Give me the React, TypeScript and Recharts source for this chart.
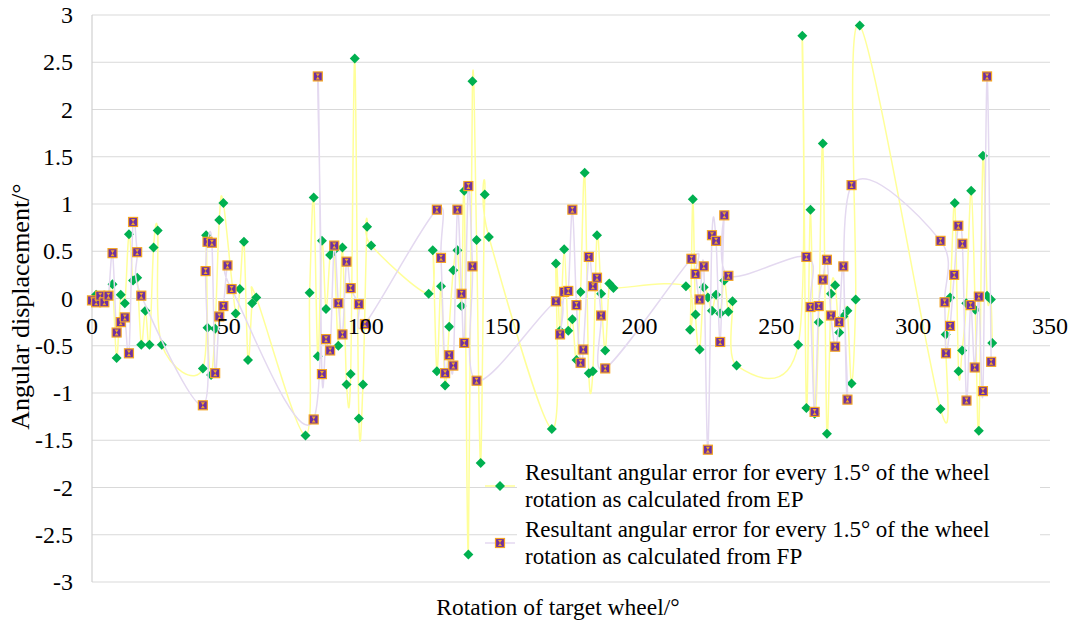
import React from "react";
import { ScatterChart, Scatter, XAxis, YAxis, CartesianGrid, Label } from "recharts";

// rotation of the target wheel (deg) and resultant angular error (deg), EP series
const epAngle = [
  0, 1.5, 3, 4.5, 6, 7.5, 9, 10.5, 12, 13.5, 15, 16.5, 18, 19.5, 21, 22.5, 24, 25.5,
  40.5, 41.7, 42.2, 43.5, 45, 46.5, 48, 52.5, 54, 55.5, 57, 58.5, 60,
  78, 79.5, 81, 82.5, 84, 85.5, 87, 88.5, 90, 91.5, 93, 94.5, 96, 97.5, 99, 100.5, 102,
  123, 124.5, 126, 127.5, 129, 130.5, 132, 133.5, 135, 136, 137.5, 139, 140.5, 142, 143.5, 145,
  168, 169.5, 171, 172.5, 174, 175.5, 177, 178.5, 180, 181.5, 183, 184.5, 186, 187.5, 189, 190.5,
  217, 218.5, 219.5, 220.5, 222, 223.5, 225, 226.5, 228, 229.5, 231, 232.5, 234, 235.5,
  258, 259.5, 261, 262.5, 264, 265.5, 267, 268.5, 270, 271.5, 273, 274.5, 276, 277.5, 279, 280.5,
  310, 311.9, 313.5, 315.2, 316.6, 317.9, 319.4, 321.2, 322.7, 324, 325.5, 327, 328.4, 328.9,
];
const epError = [
  -0.03, 0.04, 0.02, 0, 0.03, 0.15, -0.63, 0.04, -0.05, 0.68, 0.19, 0.22, -0.49, -0.13, -0.49, 0.54, 0.72, -0.49,
  -0.74, 0.67, -0.31, -0.81, -0.32, 0.83, 1.01, -0.16, 0.1, 0.6, -0.65, -0.05, 0.01,
  -1.45, 0.06, 1.07, -0.61, 0.61, -0.11, 0.46, 0.51, -0.5, 0.54, -0.91, -0.8, 2.54, -1.27, -0.91, 0.76, 0.56,
  0.05, 0.51, -0.77, 0.13, -0.92, -0.3, 0.3, 0.51, -0.08, 1.14, -2.71, 2.3, 0.62, -1.74, 1.1, 0.65,
  -1.38, 0.37, -0.34, 0.52, -0.34, -0.22, -0.65, 0.07, 1.33, -0.79, -0.77, 0.67, 0.05, -0.55, 0.16, 0.11,
  0.13, -0.33, 1.05, -0.17, -0.54, 0.12, 0.01, -0.13, 0.04, -0.16, 0.19, -0.14, -0.03, -0.71,
  -0.49, 2.78, -1.16, 0.94, -1.22, -0.25, 1.64, -1.43, 0.05, 0.14, -0.36, -0.19, -0.13, -0.9, -0.01, 2.89,
  -1.17, -0.38, 0.01, 1.01, -0.77, -0.55, -0.05, 1.14, -0.12, -1.4, 1.51, 0.03, -0.01, -0.47,
];

// FP series
const fpAngle = [
  0, 1.5, 3, 4.5, 6, 7.5, 9, 10.5, 12, 13.5, 15, 16.5, 18,
  40.5, 41.5, 42.2, 43.8, 45, 46.5, 48, 49.5, 51,
  81, 82.5, 84, 85.5, 87, 88.5, 90, 91.5, 93, 94.5, 97.5, 99.7,
  126, 127.5, 129, 130.5, 132, 133.5, 135, 136, 137.5, 139, 140.5,
  169.5, 171, 172.5, 174, 175.5, 177, 178.5, 179.5, 181.5, 183, 184.5, 186, 187.5,
  219, 220.5, 222, 223.5, 225, 226.5, 228, 229.5, 231, 232.5,
  261, 262.5, 264, 265.5, 267, 268.5, 270, 271.5, 273, 274.5, 276, 277.5,
  310, 311.5, 312, 313.5, 315, 316.5, 318, 319.5, 321, 322.5, 324, 325.5, 327, 328.5,
];
const fpError = [
  -0.02, -0.04, 0.03, -0.04, 0.03, 0.48, -0.36, -0.25, -0.2, -0.58, 0.81, 0.49, 0.03,
  -1.13, 0.29, 0.6, 0.59, -0.79, -0.19, -0.08, 0.35, 0.1,
  -1.28, 2.35, -0.8, -0.43, -0.55, 0.56, -0.05, -0.38, 0.39, 0.11, -0.06, -0.27,
  0.94, 0.43, -0.79, -0.6, -0.71, 0.94, 0.05, -0.47, 1.19, 0.34, -0.87,
  -0.03, -0.38, 0.07, 0.08, 0.94, -0.07, -0.68, -0.54, 0.44, 0.13, 0.22, -0.18, -0.74,
  0.42, 0.26, -0.01, 0.34, -1.6, 0.67, 0.61, -0.46, 0.88, 0.24,
  0.44, -0.09, -1.2, -0.08, 0.2, 0.41, -0.18, -0.51, -0.25, 0.34, -1.07, 1.2,
  0.61, -0.04, -0.58, -0.29, 0.25, 0.77, 0.58, -1.08, -0.07, -0.73, 0.02, -0.98, 2.35, -0.67,
];

const xTicks = [0, 50, 100, 150, 200, 250, 300, 350];
const yTicks = [-3, -2.5, -2, -1.5, -1, -0.5, 0, 0.5, 1, 1.5, 2, 2.5, 3];
const seriesNames = [
  "Resultant angular error for every 1.5° of the wheel rotation as calculated from EP",
  "Resultant angular error for every 1.5° of the wheel rotation as calculated from FP",
];

const epData = epAngle.map((x, i) => ({ x, y: epError[i] }));
const fpData = fpAngle.map((x, i) => ({ x, y: fpError[i] }));

const SERIF = "'Liberation Serif', 'Times New Roman', serif";
const PLOT_H = 567;
const textStyle = { fontFamily: SERIF };

// excel-like smoothed line (catmull-rom)
const smoothCurve = (context: any) => {
  let pts: number[][] = [];
  return {
    areaStart() {},
    areaEnd() {},
    lineStart() {
      pts = [];
    },
    point(x: number, y: number) {
      pts.push([+x, +y]);
    },
    lineEnd() {
      const n = pts.length;
      if (!n) return;
      context.moveTo(pts[0][0], pts[0][1]);
      for (let i = 0; i < n - 1; i++) {
        const p0 = pts[i - 1] || pts[i];
        const p1 = pts[i];
        const p2 = pts[i + 1];
        const p3 = pts[i + 2] || p2;
        context.bezierCurveTo(
          p1[0] + (p2[0] - p0[0]) / 6,
          p1[1] + (p2[1] - p0[1]) / 6,
          p2[0] - (p3[0] - p1[0]) / 6,
          p2[1] - (p3[1] - p1[1]) / 6,
          p2[0],
          p2[1]
        );
      }
    },
  };
};

const Diamond = ({ cx, cy }: any) => (
  <path d={`M${cx} ${cy - 5}L${cx + 5} ${cy}L${cx} ${cy + 5}L${cx - 5} ${cy}Z`} fill="#00B050" />
);

const Square = ({ cx, cy }: any) => (
  <g>
    <rect x={cx - 4.5} y={cy - 4.5} width={9} height={9} fill="#7030A0" stroke="#F5A623" strokeWidth={1.2} />
    <path
      d={`M${cx - 2} ${cy - 3}L${cx + 2} ${cy - 3}L${cx} ${cy}Z M${cx - 2} ${cy + 3}L${cx + 2} ${cy + 3}L${cx} ${cy}Z`}
      fill="#F5A623"
    />
  </g>
);

const XTick = ({ x, y, payload }: any) => (
  <text
    x={x}
    y={y - PLOT_H / 2 + 27}
    textAnchor="middle"
    dominantBaseline="central"
    fontSize={24}
    style={textStyle}
    fill="#000"
  >
    {payload.value}
  </text>
);

const YTick = ({ x, y, payload }: any) => (
  <text x={x} y={y} textAnchor="end" dominantBaseline="central" fontSize={24} style={textStyle} fill="#000">
    {payload.value}
  </text>
);

export default function App() {
  return (
    <div style={{ position: "absolute", left: 0, top: 0, width: 1071, height: 625, background: "#fff" }}>
      <ScatterChart width={1071} height={625} margin={{ top: 15, right: 21, bottom: 0, left: 0 }}>
        <CartesianGrid vertical={false} stroke="#D9D9D9" strokeWidth={1.2} />
        <XAxis
          type="number"
          dataKey="x"
          domain={[0, 350]}
          ticks={xTicks}
          interval={0}
          height={43}
          axisLine={false}
          tickLine={false}
          tickSize={0}
          tickMargin={0}
          tick={<XTick />}
        >
          <Label
            content={({ viewBox }: any) => (
              <text
                x={viewBox.x + viewBox.width / 2 - 13}
                y={viewBox.y + 25}
                textAnchor="middle"
                dominantBaseline="central"
                fontSize={23.5}
                style={textStyle}
                fill="#000"
              >
                Rotation of target wheel/°
              </text>
            )}
          />
        </XAxis>
        <YAxis
          type="number"
          dataKey="y"
          domain={[-3, 3]}
          ticks={yTicks}
          interval={0}
          width={92}
          axisLine={{ stroke: "#D0D0D0", strokeWidth: 1.2 }}
          tickLine={false}
          tickSize={0}
          tickMargin={19}
          tick={<YTick />}
        >
          <Label
            content={({ viewBox }: any) => {
              const cx = 20;
              const cy = viewBox.y + viewBox.height / 2 + 8;
              return (
                <text
                  x={cx}
                  y={cy}
                  transform={`rotate(-90 ${cx} ${cy})`}
                  textAnchor="middle"
                  dominantBaseline="central"
                  fontSize={26}
                  style={textStyle}
                  fill="#000"
                >
                  Angular displacement/°
                </text>
              );
            }}
          />
        </YAxis>
        <Scatter
          name={seriesNames[0]}
          data={epData}
          line={{ stroke: "#FFFF99", strokeWidth: 1.5 }}
          lineType="joint"
          lineJointType={smoothCurve as any}
          shape={Diamond}
          isAnimationActive={false}
        />
        <Scatter
          name={seriesNames[1]}
          data={fpData}
          line={{ stroke: "#E4D9F0", strokeWidth: 1.5 }}
          lineType="joint"
          lineJointType={smoothCurve as any}
          shape={Square}
          isAnimationActive={false}
        />
      </ScatterChart>
      <div style={{ position: "absolute", left: 480, top: 459, fontFamily: SERIF, fontSize: 23, lineHeight: "27px" }}>
        {seriesNames.map((name, i) => (
          <div key={name} style={{ display: "flex", alignItems: "center", marginBottom: i === 0 ? 3 : 0 }}>
            <svg width={37} height={20} style={{ display: "block" }}>
              <line x1={5} x2={35} y1={10} y2={10} stroke={i === 0 ? "#FFFF99" : "#E4D9F0"} strokeWidth={1.5} />
              {i === 0 ? <Diamond cx={20} cy={10} /> : <Square cx={20} cy={10} />}
            </svg>
            <div style={{ background: "#fff", paddingLeft: 8, width: 515, color: "#000" }}>{name}</div>
          </div>
        ))}
      </div>
    </div>
  );
}
